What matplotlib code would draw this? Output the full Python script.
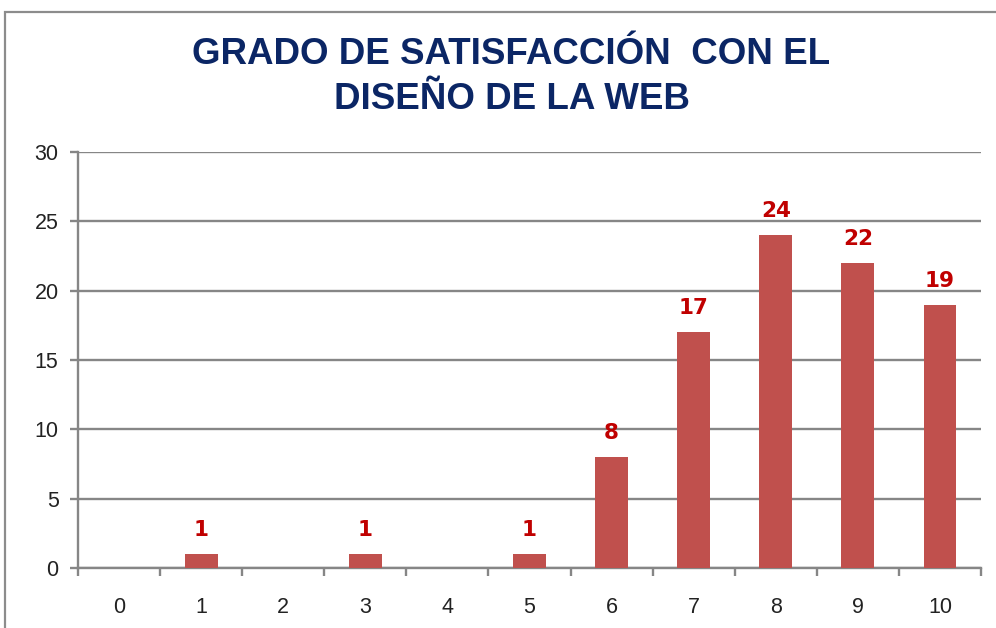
import matplotlib
matplotlib.use("Agg")
import matplotlib.pyplot as plt
from matplotlib.patches import Rectangle
import numpy as np

# --- data ---
scores = [0, 1, 2, 3, 4, 5, 6, 7, 8, 9, 10]
counts = [0, 1, 0, 1, 0, 1, 8, 17, 24, 22, 19]
title = "GRADO DE SATISFACCIÓN  CON EL\nDISEÑO DE LA WEB"

BAR = "#C0504D"
LABEL = "#C00000"
GRID = "#868686"
NAVY = "#0B2665"

fig = plt.figure(figsize=(9.96, 6.28), dpi=100)
ax = fig.add_axes([78 / 996, 60 / 628, 903 / 996, 416 / 628])

# outer chart frame
fig.patches.append(Rectangle((5 / 996, -0.1), 1.2, (616 / 628) + 0.1,
                             transform=fig.transFigure, fill=False,
                             edgecolor="#8C8C8C", linewidth=1.6))

x = np.arange(len(scores))
bars = ax.bar(x, counts, width=0.4, color=BAR, zorder=3)
for xi, v in zip(x, counts):
    if v > 0:
        ax.text(xi, v + 1.0, str(v), ha="center", va="bottom",
                color=LABEL, fontsize=15.5, fontweight="bold",
                family="DejaVu Sans")

ax.set_xlim(-0.5, 10.5)
ax.set_ylim(0, 30)
ax.set_yticks(range(0, 31, 5))
ax.yaxis.grid(True, color=GRID, linewidth=1.7, zorder=0)
ax.set_axisbelow(True)

ax.set_xticks(np.arange(-0.5, 11, 1))
ax.set_xticklabels([])
ax.set_xticks(x, minor=True)
ax.set_xticklabels([str(s) for s in scores], minor=True)
ax.tick_params(axis="x", which="major", length=6, width=1.7, color=GRID)
ax.tick_params(axis="x", which="minor", length=0, pad=21, labelsize=15.5)
ax.tick_params(axis="y", length=6, width=1.7, color=GRID, labelsize=15.5, pad=8)

for s in ["top", "right"]:
    ax.spines[s].set_visible(False)
for s in ["left", "bottom"]:
    ax.spines[s].set_color(GRID)
    ax.spines[s].set_linewidth(1.7)

for lab in ax.get_xticklabels(minor=True) + ax.get_yticklabels():
    lab.set_family("Liberation Sans")
    lab.set_color("#222222")

fig.text(0.5136, 0.877, title, ha="center", va="center", color=NAVY,
         fontsize=26.5, fontweight="bold", linespacing=1.36,
         family="Liberation Sans")

fig.savefig("out.png", dpi=100)
